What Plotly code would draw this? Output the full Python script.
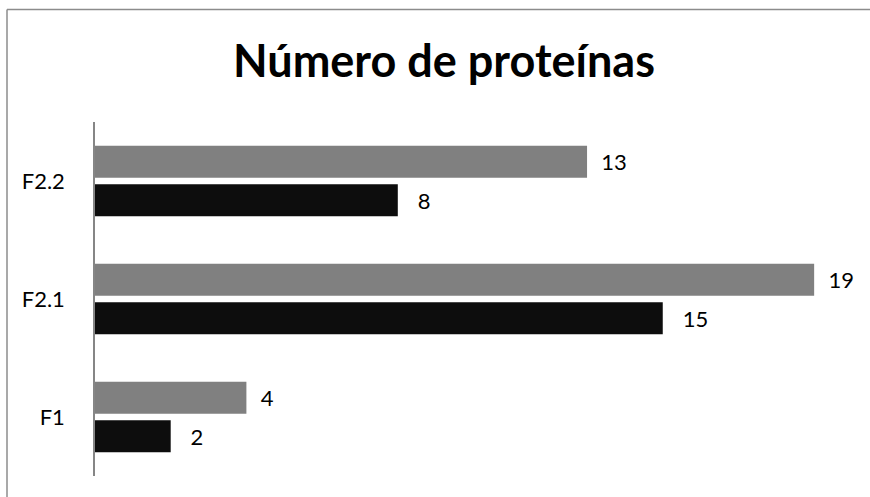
import plotly.graph_objects as go

# Protein counts per fraction, two series per category
categories = ["F1", "F2.1", "F2.2"]
series_black = [2, 15, 8]
series_gray = [4, 19, 13]

FONT = "Lato, Calibri, 'Open Sans', sans-serif"
NBSP = "\u00a0"
label_font = dict(family=FONT, size=22, color="#000000", weight=400)

fig = go.Figure()
fig.add_trace(go.Bar(
    y=categories, x=series_black, orientation="h",
    marker=dict(color="#0d0d0d", line=dict(width=0)),
    text=series_black, texttemplate=NBSP * 3 + "%{x}",
    textposition="outside", constraintext="none", cliponaxis=False,
    textfont=label_font,
    showlegend=False, hoverinfo="skip",
))
fig.add_trace(go.Bar(
    y=categories, x=series_gray, orientation="h",
    marker=dict(color="#808080", line=dict(width=0)),
    text=series_gray, texttemplate=NBSP * 2 + "%{x}",
    textposition="outside", constraintext="none", cliponaxis=False,
    textfont=label_font,
    showlegend=False, hoverinfo="skip",
))

# chart frame: left and top edges
frame_x = (7 - 95) / 757
frame_y = (476 - 9.5) / 354

fig.update_layout(
    width=870, height=497,
    margin=dict(l=95, r=18, t=122, b=21, pad=0),
    paper_bgcolor="white", plot_bgcolor="white",
    barmode="group", bargap=0.347, bargroupgap=0.169,
    title=dict(
        text="<b>Número de proteínas</b>",
        font=dict(family=FONT, size=45, color="#000000"),
        xref="paper", x=0.461, xanchor="center",
        yref="container", y=1 - 61 / 497, yanchor="middle",
    ),
    xaxis=dict(range=[0, 20], showticklabels=False, showgrid=False,
               zeroline=False, showline=False, fixedrange=True),
    yaxis=dict(showline=True, linecolor="#868686", linewidth=1.5,
               ticks="", showgrid=False, zeroline=False,
               ticklabelstandoff=24,
               tickfont=label_font),
    shapes=[
        dict(type="line", xref="paper", yref="paper",
             x0=frame_x, x1=frame_x, y0=-0.2, y1=frame_y,
             line=dict(color="#8c8c8c", width=1.5), layer="below"),
        dict(type="line", xref="paper", yref="paper",
             x0=frame_x, x1=1.2, y0=frame_y, y1=frame_y,
             line=dict(color="#8c8c8c", width=1.5), layer="below"),
    ],
)

fig.write_html("out.html")
